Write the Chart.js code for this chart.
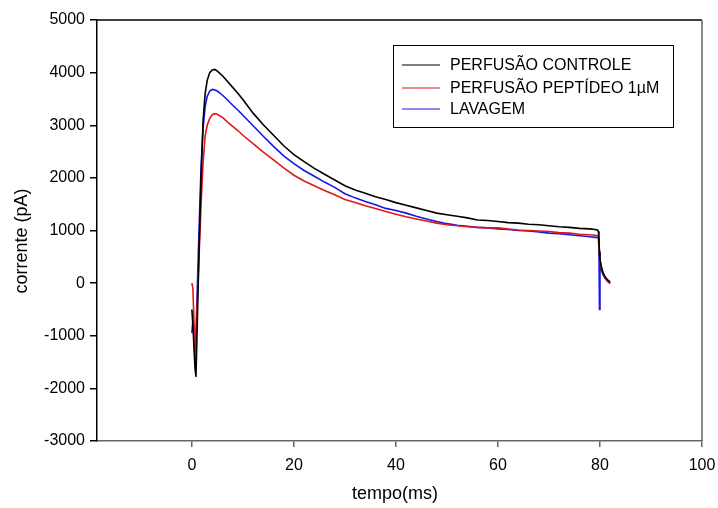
<!DOCTYPE html>
<html>
<head>
<meta charset="utf-8">
<script src="https://cdn.jsdelivr.net/npm/chart.js@4/dist/chart.umd.min.js"></script>
<style>
  html, body { margin: 0; padding: 0; background: #fff; }
  canvas { display: block; }
</style>
</head>
<body>
<canvas id="c" width="718" height="508"></canvas>
<script>
// Time base (ms) shared by the three current traces
const tempo = [
  0, 0.2, 0.4, 0.6, 0.8, 1.0, 1.4, 1.8, 2.2, 2.6, 3.0, 3.5, 4, 4.5, 5, 6, 7, 8, 9,
  10, 12, 14, 16, 18, 20, 22, 24, 26, 28, 30, 32, 34, 36, 38, 40, 42, 44, 46, 48,
  50, 52, 54, 56, 58, 60, 62, 64, 66, 68, 70, 72, 74, 76, 78,
  79, 79.5, 79.7, 79.8, 79.9, 80.0, 80.3, 80.6, 81, 81.5, 82
];

// Current (pA)
const controle = [
  -500, -800, -1200, -1600, -1780, -1000, 600, 2000, 3100, 3600, 3850, 4000, 4050, 4060, 4030, 3940, 3830, 3720, 3610,
  3490, 3230, 3010, 2810, 2610, 2440, 2310, 2180, 2070, 1960, 1850, 1770, 1710, 1640, 1590, 1530, 1480, 1430, 1380, 1330,
  1300, 1270, 1240, 1200, 1190, 1170, 1150, 1140, 1120, 1110, 1090, 1070, 1060, 1040, 1030,
  1020, 1010, 980, 800, 600, 450, 300, 200, 120, 60, 20
];
const peptideo = [
  0, -100, -700, -1500, -1200, -500, 500, 1500, 2300, 2800, 3000, 3130, 3200, 3220, 3210, 3150, 3060, 2980, 2900,
  2810, 2650, 2490, 2340, 2190, 2050, 1940, 1850, 1760, 1680, 1590, 1530, 1470, 1420, 1360, 1310, 1260, 1220, 1180, 1140,
  1110, 1090, 1070, 1060, 1050, 1050, 1030, 1010, 1000, 990, 980, 960, 950, 930, 920,
  910, 900, 880, 750, 560, 420, 270, 180, 100, 40, 0
];
const lavagem = [
  -950, -700, -1000, -1350, -1000, -300, 1000, 2200, 2950, 3350, 3550, 3650, 3680, 3670, 3650, 3570, 3480, 3380, 3290,
  3190, 2990, 2790, 2600, 2420, 2270, 2140, 2030, 1920, 1820, 1700, 1620, 1550, 1490, 1420, 1380, 1330, 1270, 1220, 1170,
  1130, 1100, 1080, 1060, 1050, 1030, 1020, 1000, 990, 970, 950, 940, 920, 900, 880,
  870, 870, 850, 650, -500, 350, 240, 160, 90, 30, -10
];

const xTicks = [0, 20, 40, 60, 80, 100];
const seriesLabels = ['PERFUSÃO CONTROLE', 'PERFUSÃO PEPTÍDEO 1\u00B5M', 'LAVAGEM'];
const xTitle = 'tempo(ms)';
const yTitle = 'corrente (pA)';

const FONT = '"Liberation Sans", Arial, sans-serif';
const toPoints = arr => tempo.map((t, i) => ({ x: t, y: arr[i] }));

// Box around the plotting area (top and right sides) and the axis titles
const frame = {
  id: 'frame',
  afterDraw(chart) {
    const { ctx, chartArea: a } = chart;
    ctx.save();
    ctx.lineWidth = 1.5;
    ctx.strokeStyle = '#000';
    ctx.beginPath();
    ctx.moveTo(a.left, a.top);
    ctx.lineTo(a.right, a.top);
    ctx.stroke();
    ctx.strokeStyle = '#666';
    ctx.beginPath();
    ctx.moveTo(a.right, a.top);
    ctx.lineTo(a.right, a.bottom);
    ctx.stroke();

    ctx.fillStyle = '#000';
    ctx.font = '18px ' + FONT;
    ctx.textAlign = 'center';
    ctx.textBaseline = 'middle';
    ctx.fillText(xTitle, 395, 494);
    ctx.translate(22, 241);
    ctx.rotate(-Math.PI / 2);
    ctx.fillText(yTitle, 0, 0);
    ctx.restore();
  }
};

// Boxed legend in the upper right of the plot
const boxLegend = {
  id: 'boxLegend',
  afterDraw(chart) {
    const { ctx } = chart;
    const x0 = 393, y0 = 45, w = 280, h = 82;
    const rows = [66, 89, 110];
    ctx.save();
    ctx.fillStyle = '#fff';
    ctx.fillRect(x0, y0, w, h);
    ctx.lineWidth = 1;
    ctx.strokeStyle = '#000';
    ctx.strokeRect(x0 + 0.5, y0 + 0.5, w, h);
    ctx.font = '16px ' + FONT;
    ctx.textBaseline = 'middle';
    ctx.textAlign = 'left';
    chart.data.datasets.forEach((ds, i) => {
      const y = rows[i];
      ctx.strokeStyle = ds.borderColor;
      ctx.lineWidth = 1.2;
      ctx.beginPath();
      ctx.moveTo(402, y - 1);
      ctx.lineTo(440, y - 1);
      ctx.stroke();
      ctx.fillStyle = '#000';
      ctx.fillText(ds.label, 450, y);
    });
    ctx.restore();
  }
};

new Chart(document.getElementById('c'), {
  type: 'line',
  data: {
    datasets: [
      { label: seriesLabels[0], data: toPoints(controle), borderColor: '#000000' },
      { label: seriesLabels[1], data: toPoints(peptideo), borderColor: '#e01818' },
      { label: seriesLabels[2], data: toPoints(lavagem), borderColor: '#1818e0' }
    ]
  },
  options: {
    responsive: false,
    animation: false,
    devicePixelRatio: 1,
    layout: { padding: { left: 0, top: 20, right: 16, bottom: 0 } },
    elements: {
      point: { radius: 0 },
      line: { borderWidth: 1.6, tension: 0 }
    },
    plugins: {
      legend: { display: false },
      tooltip: { enabled: false }
    },
    scales: {
      x: {
        type: 'linear',
        min: -18.6,
        max: 100,
        afterBuildTicks: s => { s.ticks = xTicks.map(v => ({ value: v })); },
        afterFit: s => { s.height = 67; s.paddingLeft = 0; s.paddingRight = 0; },
        ticks: {
          color: '#000',
          font: { family: FONT, size: 16 },
          padding: 9,
          maxRotation: 0,
          callback: v => String(v)
        },
        grid: { drawOnChartArea: false, drawTicks: true, tickLength: 6, color: '#666', lineWidth: 1.5 },
        border: { display: true, color: '#666', width: 1.5 },
        title: { display: false }
      },
      y: {
        min: -3000,
        max: 5000,
        afterFit: s => { s.width = 97; s.paddingTop = 0; s.paddingBottom = 0; },
        ticks: {
          stepSize: 1000,
          color: '#000',
          font: { family: FONT, size: 16 },
          padding: 5,
          callback: v => String(v)
        },
        grid: { drawOnChartArea: false, drawTicks: true, tickLength: 7, color: '#000', lineWidth: 1.5 },
        border: { display: true, color: '#000', width: 1.5 },
        title: { display: false }
      }
    }
  },
  plugins: [frame, boxLegend]
});
</script>
</body>
</html>
